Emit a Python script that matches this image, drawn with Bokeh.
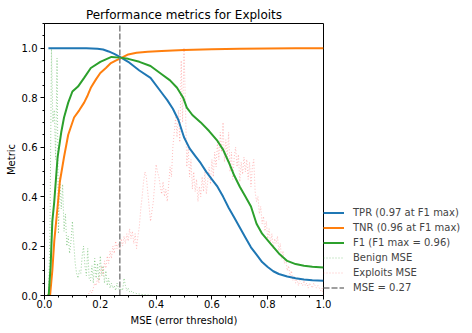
import numpy as np
from bokeh.plotting import figure
from bokeh.models import Legend, LegendItem, FixedTicker, NumeralTickFormatter
from bokeh.embed import file_html
from bokeh.resources import INLINE

# ---- data ----
tpr_x = [0.014, 0.05, 0.10, 0.15, 0.19, 0.21, 0.23, 0.25, 0.27, 0.30, 0.34, 0.38, 0.42, 0.44,
         0.46, 0.48, 0.50, 0.52, 0.54, 0.56, 0.58, 0.60, 0.62, 0.64, 0.66, 0.68, 0.70, 0.72,
         0.74, 0.76, 0.78, 0.80, 0.82, 0.84, 0.87, 0.90, 0.93, 0.96, 1.00]
tpr_y = [1.0, 1.0, 1.0, 1.0, 0.998, 0.995, 0.987, 0.977, 0.965, 0.945, 0.91, 0.88, 0.82, 0.79,
         0.755, 0.71, 0.64, 0.595, 0.565, 0.535, 0.50, 0.47, 0.44, 0.40, 0.355, 0.315, 0.275, 0.235,
         0.195, 0.165, 0.135, 0.115, 0.098, 0.087, 0.077, 0.07, 0.065, 0.062, 0.06]

tnr_x = [0.010, 0.020, 0.028, 0.035, 0.047, 0.055, 0.07, 0.085, 0.106, 0.125, 0.142, 0.155, 0.166,
         0.185, 0.20, 0.22, 0.238, 0.255, 0.274, 0.30, 0.33, 0.37, 0.42, 0.50, 0.60, 0.70, 0.80,
         0.90, 1.00]
tnr_y = [0.0, 0.0, 0.10, 0.22, 0.36, 0.46, 0.56, 0.65, 0.72, 0.75, 0.78, 0.81, 0.84,
         0.875, 0.90, 0.92, 0.94, 0.95, 0.96, 0.975, 0.982, 0.986, 0.989, 0.993, 0.996, 0.998, 0.999,
         1.0, 1.0]

f1_x = [0.010, 0.015, 0.022, 0.028, 0.035, 0.047, 0.06, 0.07, 0.085, 0.10, 0.12, 0.142, 0.166,
        0.20, 0.24, 0.27, 0.30, 0.34, 0.38, 0.42, 0.45, 0.475, 0.497, 0.51, 0.53, 0.56, 0.59,
        0.62, 0.64, 0.66, 0.68, 0.70, 0.72, 0.74, 0.76, 0.78, 0.81, 0.84, 0.87, 0.90, 0.93,
        0.96, 1.00]
f1_y = [0.0, 0.0, 0.12, 0.30, 0.38, 0.56, 0.66, 0.72, 0.78, 0.825, 0.845, 0.88, 0.92,
        0.945, 0.965, 0.962, 0.957, 0.945, 0.928, 0.895, 0.87, 0.84, 0.80, 0.76, 0.73, 0.70, 0.665,
        0.625, 0.59, 0.54, 0.485, 0.44, 0.40, 0.36, 0.29, 0.25, 0.21, 0.17, 0.14, 0.127, 0.12,
        0.116, 0.113]

benign_x = list(np.round(np.linspace(0.010, 0.320, 63), 3)) + [0.33, 0.34, 0.35, 0.37, 0.40, 1.00]
benign_y = [0.0, 0.0, 0.30, 1.00, 0.70, 0.75, 0.55, 0.96, 0.25, 0.48,
            0.35, 0.45, 0.26, 0.33, 0.20, 0.24, 0.17, 0.22, 0.30, 0.21,
            0.13, 0.09, 0.07, 0.10, 0.09, 0.16, 0.20, 0.12, 0.08, 0.19,
            0.07, 0.06, 0.12, 0.05, 0.15, 0.07, 0.13, 0.06, 0.16, 0.08,
            0.12, 0.05, 0.10, 0.04, 0.07, 0.03, 0.05, 0.03, 0.04, 0.02,
            0.05, 0.03, 0.02, 0.03, 0.02, 0.07, 0.04, 0.02, 0.03, 0.015,
            0.02, 0.01, 0.012,
            0.008, 0.006, 0.004, 0.002, 0.0, 0.0]

exploit_x = list(np.round(np.linspace(0.15, 1.00, 171), 3))
exploit_y = [0.0, 0.0, 0.01, 0.02, 0.01, 0.03, 0.05, 0.04, 0.07, 0.05,
             0.09, 0.12, 0.08, 0.14, 0.11, 0.16, 0.13, 0.18, 0.15, 0.20,
             0.17, 0.22, 0.19, 0.21, 0.18, 0.23, 0.20, 0.24, 0.21, 0.25,
             0.22, 0.27, 0.23, 0.26, 0.21, 0.25, 0.19, 0.24, 0.28, 0.35,
             0.40, 0.46, 0.50, 0.48, 0.42, 0.36, 0.30, 0.34, 0.38, 0.45,
             0.53, 0.50, 0.48, 0.44, 0.41, 0.46, 0.40, 0.43, 0.38, 0.45,
             0.52, 0.48, 0.60, 0.66, 0.72, 0.64, 0.75, 0.62, 0.95, 0.70,
             1.00, 0.78, 0.52, 0.60, 0.48, 0.55, 0.43, 0.50, 0.42, 0.47,
             0.38, 0.44, 0.40, 0.48, 0.42, 0.50, 0.41, 0.46, 0.52, 0.45,
             0.55, 0.48, 0.58, 0.52, 0.62, 0.55, 0.66, 0.58, 0.70, 0.54,
             0.63, 0.56, 0.66, 0.50, 0.58, 0.47, 0.56, 0.60, 0.52, 0.57,
             0.46, 0.54, 0.49, 0.56, 0.50, 0.55, 0.47, 0.54, 0.44, 0.52,
             0.55, 0.42, 0.38, 0.40, 0.33, 0.36, 0.29, 0.32, 0.26, 0.30,
             0.23, 0.27, 0.21, 0.25, 0.19, 0.23, 0.21, 0.24, 0.18, 0.21,
             0.15, 0.18, 0.13, 0.15, 0.10, 0.12, 0.08, 0.10, 0.06, 0.08,
             0.05, 0.07, 0.04, 0.06, 0.05, 0.04, 0.06, 0.04, 0.05, 0.03,
             0.05, 0.04, 0.03, 0.05, 0.04, 0.03, 0.04, 0.03, 0.02, 0.03,
             0.00]

mse_threshold = 0.27
x_ticks = [0.0, 0.2, 0.4, 0.6, 0.8, 1.0]
y_ticks = [0.0, 0.2, 0.4, 0.6, 0.8, 1.0]

labels = ["TPR (0.97 at F1 max)", "TNR (0.96 at F1 max)", "F1 (F1 max = 0.96)",
          "Benign MSE", "Exploits MSE", "MSE = 0.27"]

FONT = "DejaVu Sans"

p = figure(frame_width=279, frame_height=272, x_range=(0, 1), y_range=(0, 1.1),
           output_backend="svg", toolbar_location=None,
           min_border_left=44, min_border_right=0, min_border_top=23, min_border_bottom=0,
           title="Performance metrics for Exploits")
p.title.align = "center"
p.title.text_font = FONT
p.title.text_font_size = "12px"
p.title.text_font_style = "normal"
p.title.text_color = "black"
p.title.standoff = 4
p.title.offset = 0

p.xgrid.visible = False
p.ygrid.visible = False
p.outline_line_color = "black"
p.outline_line_alpha = 1
p.outline_line_width = 1
p.background_fill_color = "white"
p.border_fill_color = "white"

r_benign = p.line(benign_x, benign_y, line_color="#2ca02c", line_alpha=0.6,
                  line_width=0.8, line_dash="1 2")
r_expl = p.line(exploit_x, exploit_y, line_color="#ff3030", line_alpha=0.4,
                line_width=0.8, line_dash="1 2")
r_tpr = p.line(tpr_x, tpr_y, line_color="#1f77b4", line_width=2)
r_tnr = p.line(tnr_x, tnr_y, line_color="#ff7f0e", line_width=2)
r_f1 = p.line(f1_x, f1_y, line_color="#2ca02c", line_width=2)
r_thr = p.line([mse_threshold, mse_threshold], [0, 1.1], line_color="#808080",
               line_width=1.5, line_dash="6 2")

for ax in (p.xaxis[0], p.yaxis[0]):
    ax.axis_line_color = "black"
    ax.major_tick_line_color = "black"
    ax.minor_tick_line_color = "black"
    ax.major_tick_in = 0
    ax.major_tick_out = 4
    ax.minor_tick_in = 0
    ax.minor_tick_out = 2
    ax.major_label_text_font = FONT
    ax.major_label_text_font_size = "10px"
    ax.major_label_text_color = "black"
    ax.axis_label_text_font = FONT
    ax.axis_label_text_font_size = "10px"
    ax.axis_label_text_font_style = "normal"
    ax.axis_label_text_color = "black"
    ax.formatter = NumeralTickFormatter(format="0.0")

p.xaxis.major_label_standoff = 0
p.xaxis.axis_label_standoff = 4
p.yaxis.major_label_standoff = 3
p.yaxis.axis_label_standoff = 2

p.xaxis.ticker = FixedTicker(ticks=x_ticks, minor_ticks=[round(i * 0.05, 2) for i in range(21)])
p.yaxis.ticker = FixedTicker(ticks=y_ticks, minor_ticks=[round(i * 0.05, 2) for i in range(23)])
p.xaxis.axis_label = "MSE (error threshold)"
p.yaxis.axis_label = "Metric"

items = [LegendItem(label=l, renderers=[r]) for l, r in
         zip(labels, [r_tpr, r_tnr, r_f1, r_benign, r_expl, r_thr])]
legend = Legend(items=items, location="bottom_left", orientation="vertical",
                label_text_font=FONT, label_text_font_size="10px",
                glyph_width=21, glyph_height=15, label_height=15, spacing=0,
                padding=3, margin=0, label_standoff=9,
                border_line_color=None, background_fill_alpha=0)
p.add_layout(legend, "right")

open("out.html", "w").write(file_html(p, INLINE))
